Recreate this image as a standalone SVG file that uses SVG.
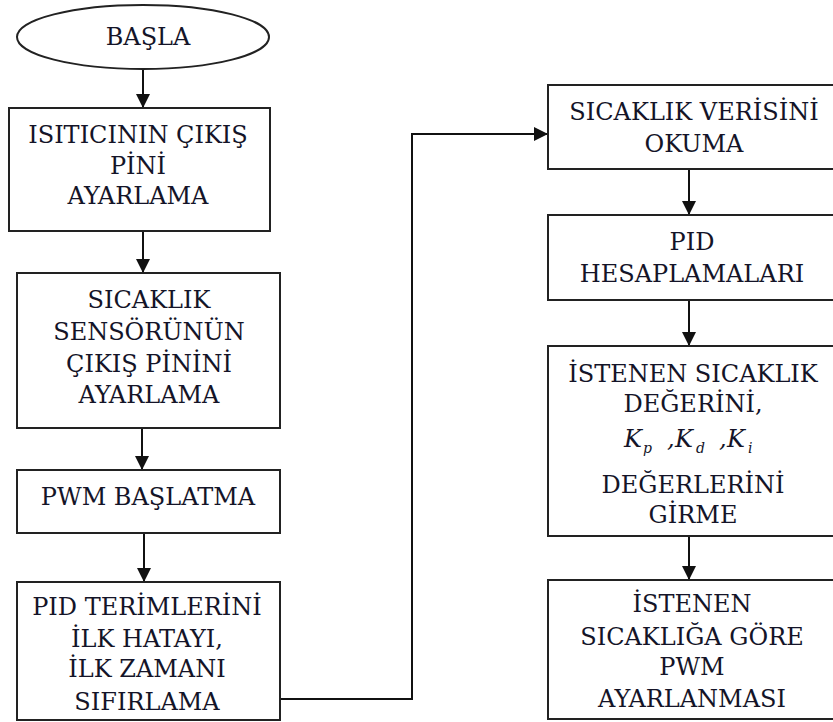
<svg xmlns="http://www.w3.org/2000/svg" width="833" height="722" viewBox="0 0 833 722">
  <defs>
    <marker id="arrow" viewBox="0 0 14 14" refX="14" refY="7" markerWidth="14" markerHeight="14" markerUnits="userSpaceOnUse" orient="auto">
      <path d="M0,0 L14,7 L0,14 Z" fill="#111"/>
    </marker>
    <style>
      .shape { fill: #fff; stroke: #222; stroke-width: 2; }
      .lbl { font-family: "DejaVu Serif", "Liberation Serif", serif; font-size: 24px; fill: #141428; text-anchor: middle; }
      .math { font-family: "DejaVu Serif", "Liberation Serif", serif; font-style: italic; fill: #141428; }
      .wire { fill: none; stroke: #111; stroke-width: 2; marker-end: url(#arrow); }
    </style>
  </defs>
  <rect width="833" height="722" fill="#fff"/>

  <!-- connectors -->
  <g id="connectors">
    <path class="wire" d="M143,70 V108"/>
    <path class="wire" d="M143,231 V273"/>
    <path class="wire" d="M142,428 V470"/>
    <path class="wire" d="M144,533 V582"/>
    <path class="wire" d="M280,699 H412 V134 H548"/>
    <path class="wire" d="M689,169 V215"/>
    <path class="wire" d="M689,300 V346"/>
    <path class="wire" d="M689,536 V580"/>
  </g>

  <!-- left column -->
  <g id="start">
    <ellipse class="shape" cx="143" cy="37" rx="126" ry="32"/>
    <text class="lbl" x="148" y="45">BAŞLA</text>
  </g>
  <g id="heater-pin">
    <rect class="shape" x="9" y="108" width="261" height="123"/>
    <text class="lbl" x="138" y="143">ISITICININ ÇIKIŞ</text>
    <text class="lbl" x="138" y="174">PİNİ</text>
    <text class="lbl" x="138" y="204">AYARLAMA</text>
  </g>
  <g id="sensor-pin">
    <rect class="shape" x="17" y="273" width="263" height="155"/>
    <text class="lbl" x="149" y="308">SICAKLIK</text>
    <text class="lbl" x="149" y="340">SENSÖRÜNÜN</text>
    <text class="lbl" x="149" y="372">ÇIKIŞ PİNİNİ</text>
    <text class="lbl" x="149" y="403">AYARLAMA</text>
  </g>
  <g id="pwm-start">
    <rect class="shape" x="17" y="470" width="263" height="63"/>
    <text class="lbl" x="148" y="505">PWM BAŞLATMA</text>
  </g>
  <g id="pid-reset">
    <rect class="shape" x="17" y="582" width="263" height="138"/>
    <text class="lbl" x="147" y="615">PID TERİMLERİNİ</text>
    <text class="lbl" x="147" y="647">İLK HATAYI,</text>
    <text class="lbl" x="147" y="677">İLK ZAMANI</text>
    <text class="lbl" x="147" y="710">SIFIRLAMA</text>
  </g>

  <!-- right column -->
  <g id="read-temp">
    <rect class="shape" x="548" y="85" width="300" height="84"/>
    <text class="lbl" x="694" y="120">SICAKLIK VERİSİNİ</text>
    <text class="lbl" x="694" y="152">OKUMA</text>
  </g>
  <g id="pid-calc">
    <rect class="shape" x="548" y="215" width="300" height="85"/>
    <text class="lbl" x="692" y="250">PID</text>
    <text class="lbl" x="692" y="282">HESAPLAMALARI</text>
  </g>
  <g id="setpoint-input">
    <rect class="shape" x="548" y="346" width="300" height="190"/>
    <text class="lbl" x="693" y="382">İSTENEN SICAKLIK</text>
    <text class="lbl" x="693" y="412">DEĞERİNİ,</text>
    <text class="math" font-size="24">
      <tspan x="624" y="447">K</tspan><tspan x="643" y="453" font-size="14">p</tspan>
      <tspan x="667" y="447">,</tspan><tspan x="675" y="447">K</tspan><tspan x="696" y="453" font-size="14">d</tspan>
      <tspan x="719" y="447">,</tspan><tspan x="727" y="447">K</tspan><tspan x="748" y="453" font-size="14">i</tspan>
    </text>
    <text class="lbl" x="693" y="493">DEĞERLERİNİ</text>
    <text class="lbl" x="693" y="523">GİRME</text>
  </g>
  <g id="pwm-adjust">
    <rect class="shape" x="548" y="580" width="300" height="139"/>
    <text class="lbl" x="692" y="612">İSTENEN</text>
    <text class="lbl" x="692" y="645">SICAKLIĞA GÖRE</text>
    <text class="lbl" x="692" y="675">PWM</text>
    <text class="lbl" x="692" y="707">AYARLANMASI</text>
  </g>
</svg>
